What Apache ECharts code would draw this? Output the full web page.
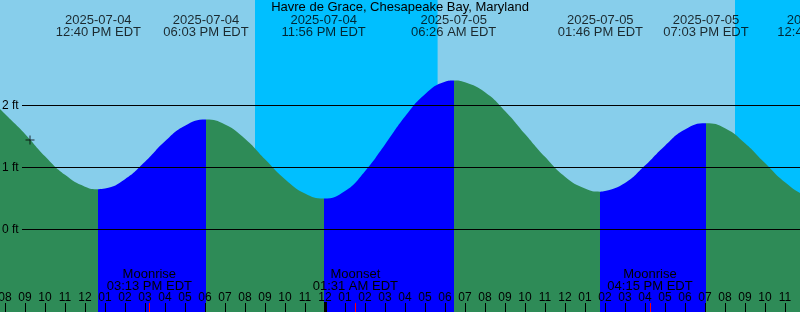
<!DOCTYPE html>
<html><head><meta charset="utf-8">
<script src="https://cdn.jsdelivr.net/npm/echarts@6/dist/echarts.min.js"></script>
<style>html,body{margin:0;padding:0;background:#87CEEB}#c{width:800px;height:312px}</style>
</head><body><div id="c"></div>
<script>
// ---- data (hours counted from 2025-07-04 00:00 EDT) ----
const chartTitle = 'Havre de Grace, Chesapeake Bay, Maryland';
const levelHours = [7.75, 8, 9, 10, 11, 12, 12.667, 13, 14, 15, 16, 17, 18.05, 19, 20, 21, 22, 23, 23.933,
  25, 26, 27, 28, 29, 30, 30.433, 31, 32, 33, 34, 35, 36, 37, 37.767, 38, 39, 40, 41, 42, 43.05, 44, 45, 46, 47, 48, 48.75];
const levelFeet = [1.94, 1.86, 1.54, 1.18, 0.88, 0.69, 0.65, 0.66, 0.81, 1.09, 1.42, 1.67, 1.77, 1.69, 1.46, 1.13, 0.81, 0.58, 0.50,
  0.62, 0.94, 1.37, 1.82, 2.18, 2.38, 2.40, 2.37, 2.21, 1.91, 1.54, 1.17, 0.85, 0.66, 0.61, 0.62, 0.75, 1.03, 1.35, 1.61, 1.71, 1.63, 1.39, 1.07, 0.76, 0.55, 0.50];
const extremeHours = [12.667, 18.05, 23.933, 30.433, 37.767, 43.05, 48.75];
const extremeFeet = [0.65, 1.77, 0.50, 2.40, 0.61, 1.71, 0.50];
const extremeDates = ['2025-07-04', '2025-07-04', '2025-07-04', '2025-07-05', '2025-07-05', '2025-07-05', '2025-07-06'];
const extremeTimes = ['12:40 PM EDT', '06:03 PM EDT', '11:56 PM EDT', '06:26 AM EDT', '01:46 PM EDT', '07:03 PM EDT', '12:45 AM EDT'];
const moonHours = [15.217, 25.517, 40.25];
const moonEvents = ['Moonrise', 'Moonset', 'Moonrise'];
const moonTimes = ['03:13 PM EDT', '01:31 AM EDT', '04:15 PM EDT'];
const nightStart = [20.5, 44.5];
const nightEnd = [29.63, 53.6];
const hourTicks = [8, 9, 10, 11, 12, 13, 14, 15, 16, 17, 18, 19, 20, 21, 22, 23, 24, 25, 26, 27, 28, 29, 30, 31,
  32, 33, 34, 35, 36, 37, 38, 39, 40, 41, 42, 43, 44, 45, 46, 47];
const midnightTicks = [24];
const levelTicks = [0, 1, 2];
const nowPoint = [9.25, 1.44];

// ---- layout / style ----
const X_MIN = 7.75, X_MAX = 47.75, Y_MIN = -1.3285, Y_MAX = 3.696;
const PX_PER_HOUR = 800 / (X_MAX - X_MIN);
const FONT = 'Liberation Sans';
const GREEN = '#2E8B57', BLUE = '#0000FF', NIGHT = '#00BFFF', DAY = '#87CEEB';

function fmtHour(v) { const h = Math.round(v) % 12; return String(h === 0 ? 12 : h).padStart(2, '0'); }
function findIdx(arr, v) { let b = 0; arr.forEach((a, i) => { if (Math.abs(a - v) < Math.abs(arr[b] - v)) b = i; }); return b; }

const pieces = [{ lt: extremeHours[0], color: extremeFeet[0] < extremeFeet[1] ? GREEN : BLUE }];
for (let i = 0; i < extremeHours.length - 1; i++) {
  pieces.push({ gte: extremeHours[i], lt: extremeHours[i + 1], color: extremeFeet[i + 1] > extremeFeet[i] ? BLUE : GREEN });
}
const nLast = extremeHours.length - 1;
pieces.push({ gte: extremeHours[nLast], color: extremeFeet[nLast] < extremeFeet[nLast - 1] ? BLUE : GREEN });

const xBase = { type: 'value', min: X_MIN, max: X_MAX, position: 'bottom', z: 10, axisLine: { show: false, onZero: false }, splitLine: { show: false } };

const chart = echarts.init(document.getElementById('c'), null, { renderer: 'canvas' });
chart.setOption({
  animation: false,
  backgroundColor: DAY,
  textStyle: { fontFamily: FONT },
  title: { text: chartTitle, left: 'center', top: 1, padding: 0, textStyle: { fontSize: 13, fontWeight: 'normal', color: '#000', fontFamily: FONT } },
  grid: { left: 0, right: 0, top: 0, bottom: 0, containLabel: false, outerBoundsMode: 'none' },
  xAxis: [
    Object.assign({}, xBase, {
      axisTick: { inside: true, length: 9, customValues: hourTicks, lineStyle: { color: '#000', width: 1 } },
      axisLabel: { inside: true, margin: 8, customValues: hourTicks, formatter: fmtHour, color: '#000', fontSize: 12, fontFamily: FONT, hideOverlap: false }
    }),
    Object.assign({}, xBase, {
      axisTick: { inside: true, length: 10, customValues: midnightTicks, lineStyle: { color: '#000', width: 3 } },
      axisLabel: { show: false }
    }),
    Object.assign({}, xBase, {
      axisTick: { inside: true, length: 9, customValues: moonHours, lineStyle: { color: '#FF0000', width: 1 } },
      axisLabel: { inside: true, margin: 19.5, customValues: moonHours, color: '#000', fontSize: 13, lineHeight: 12, fontFamily: FONT,
        formatter: v => { const i = findIdx(moonHours, v); return moonEvents[i] + '\n' + moonTimes[i]; } }
    })
  ],
  yAxis: {
    type: 'value', min: Y_MIN, max: Y_MAX, position: 'left', z: 10,
    axisLine: { show: false, onZero: false }, axisTick: { show: false }, splitLine: { show: false },
    axisLabel: { inside: true, margin: 2, customValues: levelTicks, formatter: v => v + ' ft', color: '#000', fontSize: 12, fontFamily: FONT }
  },
  visualMap: { show: false, type: 'piecewise', dimension: 0, seriesIndex: 1, pieces: pieces },
  series: [
    { type: 'line', data: [], z: 1, silent: true,
      markArea: { silent: true, itemStyle: { color: NIGHT }, data: nightStart.map((s, i) => [{ xAxis: s }, { xAxis: nightEnd[i] }]) } },
    { type: 'line', z: 2, silent: true, symbol: 'none', showSymbol: false, smooth: 0.5,
      data: levelHours.map((h, i) => [h, levelFeet[i]]),
      lineStyle: { width: 0 }, areaStyle: { origin: 'start', opacity: 1 },
      markLine: { silent: true, symbol: ['none', 'none'], label: { show: false }, lineStyle: { color: '#000', width: 1, type: 'solid' },
        data: levelTicks.map(v => [{ coord: [X_MIN + 22 / PX_PER_HOUR, v] }, { coord: [X_MAX, v] }]) } },
    { type: 'scatter', z: 6, clip: false, silent: true, symbolSize: 1, itemStyle: { color: 'rgba(0,0,0,0)' },
      data: extremeHours.map((h, i) => [h, Y_MAX, i]),
      label: { show: true, position: 'bottom', distance: 14, color: '#000', fontSize: 13, lineHeight: 12, fontFamily: FONT,
        formatter: p => extremeDates[p.data[2]] + '\n' + extremeTimes[p.data[2]] } },
    { type: 'scatter', z: 7, silent: true, symbol: 'path://M0,4H9V5H0Z M4,0H5V9H4Z', symbolSize: 9, itemStyle: { color: '#000' },
      data: [nowPoint] }
  ]
});
</script></body></html>
